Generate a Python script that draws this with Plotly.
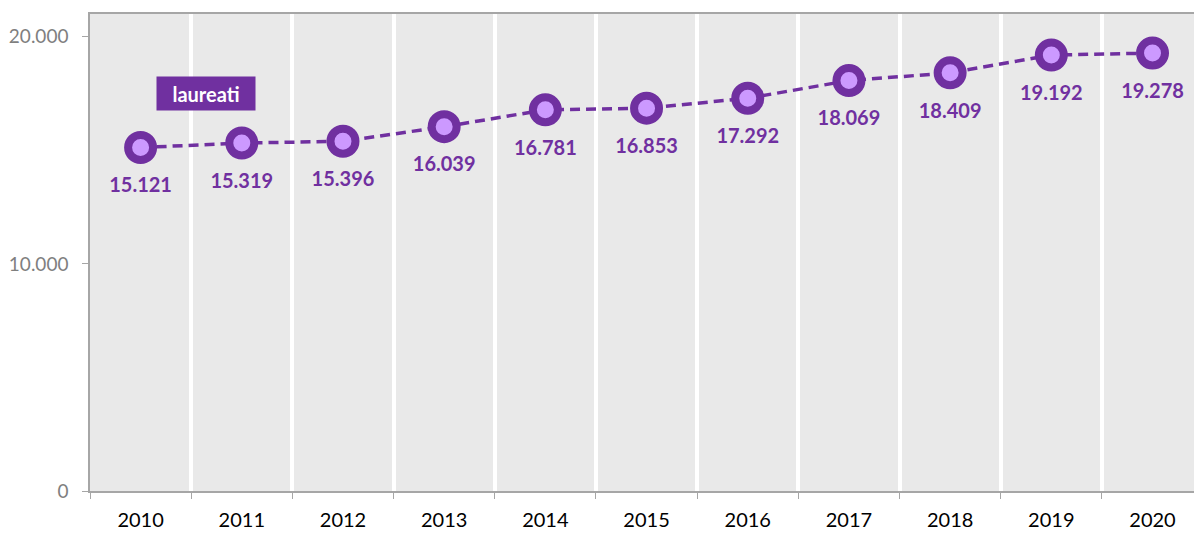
import plotly.graph_objects as go

years = ["2010", "2011", "2012", "2013", "2014", "2015", "2016", "2017", "2018", "2019", "2020"]
laureati = [15121, 15319, 15396, 16039, 16781, 16853, 17292, 18069, 18409, 19192, 19278]
series_name = "laureati"
y_ticks = [0, 10000, 20000]
y_tick_labels = ["0", "10.000", "20.000"]

def fmt(v):
    return f"{v:,}".replace(",", ".")

dark = "#7030a0"
light = "#cc99ff"
font = "Lato, 'Open Sans', sans-serif"

fig = go.Figure()
fig.add_trace(go.Scatter(
    x=years, y=laureati, mode="lines+markers",
    name=series_name,
    line=dict(color=dark, width=3.5, dash="10px,6px"),
    marker=dict(size=25, color=light, line=dict(color=dark, width=8)),
    cliponaxis=False,
    showlegend=False,
))
# value labels (invisible larger markers give the label offset)
fig.add_trace(go.Scatter(
    x=years, y=laureati, mode="markers+text",
    marker=dict(size=46, color="rgba(0,0,0,0)"),
    text=[fmt(v) for v in laureati],
    textposition="bottom center",
    textfont=dict(family=font, size=20, color=dark, weight="bold"),
    cliponaxis=False, hoverinfo="skip",
    showlegend=False,
))

fig.add_annotation(
    x=0.646, y=17510, xref="x", yref="y",
    text="<b>laureati</b>", showarrow=False,
    font=dict(family=font, size=20, color="white"),
    bgcolor=dark, borderpad=4, width=90, height=25,
)

fig.update_layout(
    width=1194, height=534,
    margin=dict(l=90, r=0, t=14, b=43),
    paper_bgcolor="white", plot_bgcolor="#e9e9e9",
    font=dict(family=font),
)
fig.update_xaxes(
    type="category", range=[-0.5, 10.41],
    tickson="boundaries", ticks="outside", ticklen=6, tickcolor="#a6a6a6",
    showgrid=True, gridcolor="white", gridwidth=4,
    showline=True, linecolor="#a6a6a6", linewidth=1.5, mirror=True,
    tickfont=dict(family=font, size=20, color="black"),
    ticklabelstandoff=10,
    zeroline=False,
)
fig.update_yaxes(
    range=[0, 21000], tickvals=y_ticks, ticktext=y_tick_labels,
    ticks="outside", ticklen=6, tickcolor="#a6a6a6",
    showgrid=False, zeroline=False,
    showline=True, linecolor="#a6a6a6", linewidth=1.5,
    tickfont=dict(family=font, size=19, color="#7f7f7f"),
    ticklabelstandoff=10,
)

fig.write_html(
    "out.html",
    config={"displayModeBar": False},
    post_script="document.body.style.margin='0';document.body.style.overflow='hidden';",
)
